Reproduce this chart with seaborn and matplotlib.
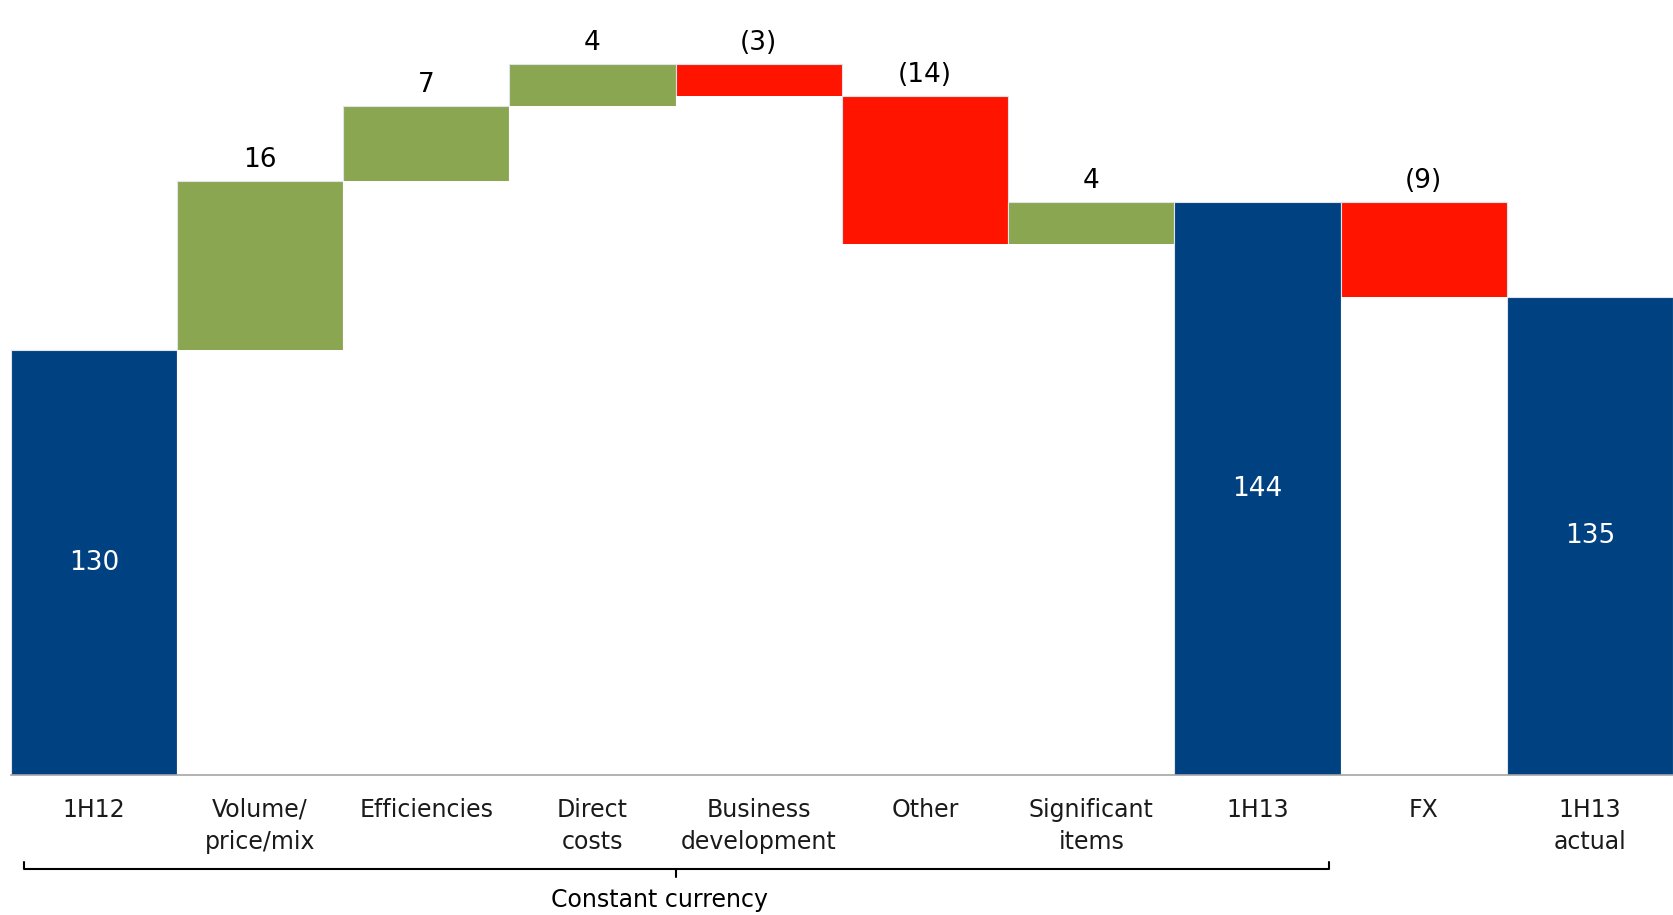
import matplotlib
matplotlib.use("Agg")
from matplotlib import pyplot as plt
from matplotlib import transforms
import pandas as pd
import seaborn as sns
import numpy as np

# waterfall data
categories = ["1H12", "Volume/\nprice/mix", "Efficiencies", "Direct\ncosts",
              "Business\ndevelopment", "Other", "Significant\nitems", "1H13",
              "FX", "1H13\nactual"]
values = [130, 16, 7, 4, -3, -14, 4, 144, -9, 135]
is_total = [True, False, False, False, False, False, False, True, False, True]
bracket_label = "Constant currency"

BLUE = "#004182"
GREEN = "#8BA651"
RED = "#FF1400"


def build_frame():
    rows = []
    running = 0
    for cat, v, tot in zip(categories, values, is_total):
        if tot:
            base, top = 0, v
            running = v
            color = BLUE
            text = str(v)
        else:
            start, end = running, running + v
            base, top = min(start, end), max(start, end)
            running = end
            color = GREEN if v >= 0 else RED
            text = str(v) if v >= 0 else "(%d)" % abs(v)
        rows.append(dict(label=cat, base=base, top=top, color=color,
                         text=text, total=tot))
    return pd.DataFrame(rows)


df = build_frame()

sns.set_style("white")
plt.rcParams["font.family"] = ["DejaVu Sans"]

fig = plt.figure(figsize=(16.73, 9.15), dpi=100)
ax = fig.add_axes([0.0064, 0.1527, 0.9936, 0.8473])

# full bars up to the top, then hide the part below the base with white
sns.barplot(data=df, x="label", y="top", hue="label", order=categories,
            palette=list(df["color"]), legend=False, width=1.0,
            saturation=1, edgecolor="#dfe3ea", linewidth=0.8, ax=ax)
sns.barplot(data=df, x="label", y="base", order=categories, color="white",
            width=1.0, saturation=1, linewidth=0, ax=ax)

ymin, ymax = 90, 163
ax.set_ylim(ymin, ymax)
ax.set_xlim(-0.5, len(categories) - 0.5)

for i, r in df.iterrows():
    if r["total"]:
        ax.text(i, (ymin + r["top"]) / 2, r["text"], color="white",
                ha="center", va="center", fontsize=19)
    else:
        ax.annotate(r["text"], (i, r["top"]), xytext=(0, 15),
                    textcoords="offset points", ha="center", va="center",
                    fontsize=19, color="black")

for s in ["left", "right", "top"]:
    ax.spines[s].set_visible(False)
ax.spines["bottom"].set_color("#a6a6a6")
ax.spines["bottom"].set_linewidth(1.2)
ax.set_yticks([])
ax.set_xlabel("")
ax.set_ylabel("")
ax.set_xticks(range(len(categories)))
ax.set_xticklabels(categories, fontsize=17, color="#1a1a1a",
                   linespacing=1.45)
ax.tick_params(axis="x", which="major", length=0, pad=16)
ax.set_xticks(np.arange(-0.5, len(categories), 1), minor=True)
ax.tick_params(axis="x", which="minor", length=7, width=1.2,
               color="#a6a6a6", direction="out")

# bracket under the constant currency items
tr = transforms.blended_transform_factory(ax.transData, fig.transFigure)
x0, x1, xm = -0.42, 7.43, 3.5
yb = 0.050
ax.plot([x0, x0, x1, x1], [0.058, yb, yb, 0.058], color="black", lw=1.5,
        transform=tr, clip_on=False)
ax.plot([xm, xm], [yb, 0.041], color="black", lw=1.5, transform=tr,
        clip_on=False)
ax.text(3.4, 0.016, bracket_label, transform=tr, ha="center",
        va="center", fontsize=17, color="black")

fig.savefig("out.png", dpi=100)
